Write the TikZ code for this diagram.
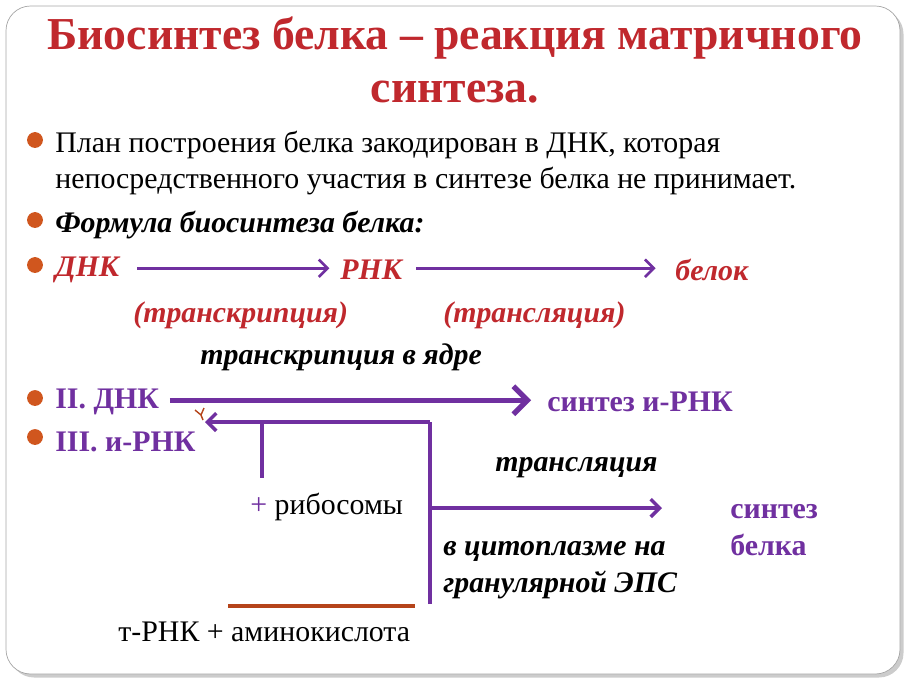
\documentclass[tikz,border=0pt]{standalone}
\usepackage{fontspec}
\setmainfont{Liberation Serif}
\usetikzlibrary{positioning,arrows.meta,shadows}
\definecolor{titlered}{HTML}{C0282D}
\definecolor{violet}{HTML}{7030A0}
\definecolor{bulletred}{HTML}{D0561E}
\definecolor{rust}{HTML}{B5441A}
\tikzset{
	txt/.style={anchor=west,inner sep=0pt,font=\fontsize{17}{21}\selectfont},
	bi/.style={txt,font=\fontsize{17}{21}\selectfont\bfseries\itshape},
	vb/.style={txt,font=\fontsize{17}{21}\selectfont\bfseries,text=violet},
	blt/.style={circle,fill=bulletred,inner sep=0pt,minimum size=9pt},
	varrow/.style={violet,line width=2pt,-{Straight Barb[length=5pt,width=10pt]}},
}
\begin{document}
\begin{tikzpicture}[x=0.02cm,y=-0.02cm]
	\useasboundingbox (0,0) rectangle (910,683);
	%FRAME
	\draw[gray!70,rounded corners=14pt,fill=white,drop shadow={shadow xshift=2pt,shadow yshift=-2pt,opacity=0.4}] (6,6) rectangle (900,674);
	%TITLE
	\node[align=center,text=titlered,font=\fontsize{26}{30}\selectfont\bfseries] (title) at (455,60) {Биосинтез белка -- реакция матричного\\синтеза.};
	%BULLETS
	\foreach \y in {140,220,265,398,437} \node[blt] at (35,\y) {};
	\node[txt,align=left] (plan) at (55,163) {План построения белка закодирован в ДНК, которая\\непосредственного участия в синтезе белка не принимает.};
	\node[bi] (formula) at (55,225) {Формула биосинтеза белка:};
	%FORMULA
	\node[bi,text=titlered] (dna) at (55,270) {ДНК};
	\node[bi,text=titlered] (rna) at (340,270) {РНК};
	\node[bi,text=titlered] (prot) at (675,270) {белок};
	\draw[varrow,line width=1.5pt] ([xshift=10pt,yshift=1pt]dna.east) -- ([xshift=-6pt,yshift=1pt]rna.west);
	\draw[varrow,line width=1.5pt] ([xshift=8pt,yshift=1pt]rna.east) -- ([xshift=-11pt,yshift=1pt]prot.west);
	\node[bi,text=titlered] (transcr) at (133,315) {(транскрипция)};
	\node[bi,text=titlered] (transl) at (443,315) {(трансляция)};
	\node[bi] (nucleus) at (200,357) {транскрипция в ядре};
	%STEPS
	\node[vb] (dna2) at (55,402) {II. ДНК};
	\node[vb] (mrna) at (547,402) {синтез и-РНК};
	\draw[varrow,line width=3pt,-{Straight Barb[length=8pt,width=16pt]}] ([xshift=6pt,yshift=1pt]dna2.east) -- ([xshift=-9pt,yshift=1pt]mrna.west);
	\node[vb] (mrna2) at (55,442) {III. и-РНК};
	\coordinate (corner) at (430,422);
	\coordinate (bottom) at (430,604);
	\draw[violet,line width=2pt] (bottom) -- (corner);
	\draw[varrow] (corner) -- (205,422) coordinate (tip);
	\draw[rust,thick] (195,410) -- (201,415) -- (204,408) (201,415) -- (203,420);
	\draw[violet,line width=2.5pt] (262,422) -- (262,478);
	\node[bi] (translation) at (495,468) {трансляция};
	\draw[varrow] (430,508) -- (662,508);
	\node[txt] (ribo) at (250,507) {\textcolor{violet}{+} рибосомы};
	\node[vb,align=left,font=\fontsize{17}{21}\selectfont\bfseries] (protsynth) at (730,530) {синтез\\белка};
	\node[bi,align=left,font=\fontsize{17}{21}\selectfont\bfseries\itshape] (cyto) at (443,570) {в цитоплазме на\\гранулярной ЭПС};
	\draw[rust,line width=2pt] (228,606) -- (415,606);
	\node[txt] (trna) at (118,632) {т-РНК + аминокислота};
\end{tikzpicture}
\end{document}
